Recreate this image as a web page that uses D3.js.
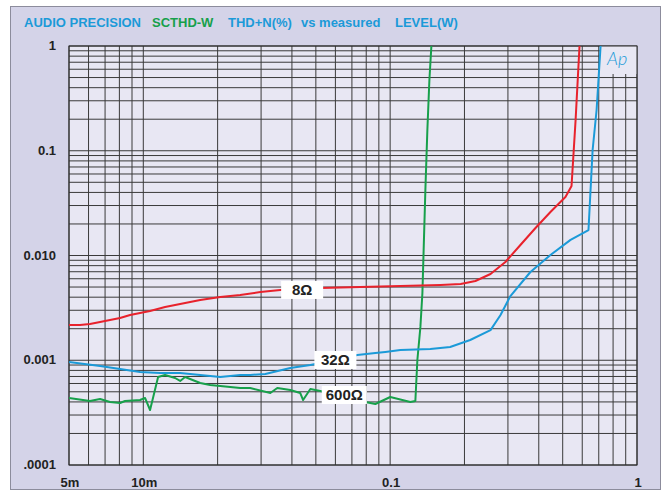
<!DOCTYPE html>
<html>
<head>
<meta charset="utf-8">
<script src="https://cdn.jsdelivr.net/npm/d3@7"></script>
<style>
  body { margin: 0; background: #ffffff; }
  svg { display: block; font-family: "Liberation Sans", Arial, sans-serif; }
</style>
</head>
<body>
<div id="chart"></div>
<script>
// 坐标轴标签
const xTickValues = [0.005, 0.01, 0.1, 1]
const xTickLabels = ["5m", "10m", "0.1", "1"]
const yTickValues = [1, 0.1, 0.01, 0.001, 0.0001]
const yTickLabels = ["1", "0.1", "0.010", "0.001", ".0001"]

// 曲线数据: [LEVEL(W), THD+N(%)]
const ohm8 = [
  [0.005, 0.00217], [0.00554, 0.00217], [0.00608, 0.00222], [0.00668, 0.00232],
  [0.00733, 0.00242], [0.00805, 0.00253], [0.00884, 0.0027], [0.0097, 0.00283],
  [0.01065, 0.00295], [0.01225, 0.00322], [0.0141, 0.00344], [0.017, 0.00376],
  [0.0205, 0.00402], [0.0247, 0.0042], [0.0298, 0.00448], [0.0359, 0.00469],
  [0.0521, 0.00489], [0.0757, 0.005], [0.11, 0.00511], [0.16, 0.00523],
  [0.193, 0.00534], [0.2215, 0.00571], [0.255, 0.00666], [0.293, 0.00867],
  [0.337, 0.0126], [0.388, 0.0183], [0.446, 0.026], [0.513, 0.0362],
  [0.543, 0.0461], [0.564, 0.197], [0.585, 1.0]
]
const ohm32 = [
  [0.005, 0.000962], [0.00668, 0.000881], [0.00805, 0.000825], [0.0097, 0.000772],
  [0.0117, 0.000755], [0.0141, 0.000755], [0.017, 0.000723], [0.0205, 0.000692],
  [0.0247, 0.000723], [0.0271, 0.000723], [0.0312, 0.000739], [0.0394, 0.000843],
  [0.0475, 0.000901], [0.0521, 0.000941], [0.0736, 0.00112], [0.0871, 0.00117],
  [0.0956, 0.0012], [0.11, 0.00125], [0.1455, 0.00128], [0.175, 0.00134],
  [0.211, 0.00156], [0.255, 0.00194], [0.28, 0.0027], [0.307, 0.0041],
  [0.37, 0.00696], [0.446, 0.0101], [0.538, 0.0141], [0.636, 0.0175],
  [0.661, 0.1017], [0.686, 0.245], [0.712, 1.0]
]
const ohm600 = [
  [0.005, 0.000436], [0.00608, 0.000408], [0.00668, 0.000427], [0.00733, 0.000399],
  [0.00805, 0.000391], [0.00843, 0.000408], [0.0097, 0.000417], [0.01017, 0.000436],
  [0.01065, 0.000335], [0.01148, 0.000692], [0.01225, 0.000723], [0.01345, 0.000677],
  [0.0141, 0.000634], [0.01477, 0.000692], [0.01547, 0.000662], [0.017, 0.000606],
  [0.01865, 0.00058], [0.0205, 0.000568], [0.0247, 0.000543], [0.0271, 0.000543],
  [0.0327, 0.000487], [0.0349, 0.000543], [0.0394, 0.00052], [0.0432, 0.000487],
  [0.0444, 0.000417], [0.0475, 0.000531], [0.0521, 0.000509], [0.0793, 0.000399],
  [0.0871, 0.000382], [0.1001, 0.000446], [0.1207, 0.000399], [0.1265, 0.000408],
  [0.1289, 0.001006], [0.1326, 0.00208], [0.1351, 0.00439], [0.1363, 0.00906],
  [0.1389, 0.0422], [0.1415, 0.158], [0.1442, 0.4735], [0.1469, 1.0]
]

// 曲线标签: [名称, LEVEL, THD+N]
const curveLabels = [
  ["8Ω", 0.044, 0.00469],
  ["32Ω", 0.06, 0.001006],
  ["600Ω", 0.0652, 0.000466]
]

const width = 666
const height = 492
const plot = { left: 69, right: 637, top: 46, bottom: 465 }
const colors = { ohm8: "#e8222c", ohm32: "#1b9ad8", ohm600: "#17a04b" }

const svg = d3.select("#chart")
  .append("svg")
  .attr("width", width)
  .attr("height", height)

// 外框
svg.append("rect")
  .attr("x", 10.5)
  .attr("y", 6.5)
  .attr("width", 650)
  .attr("height", 483)
  .attr("fill", "#d4d3e8")
  .attr("stroke", "#8c8c9c")

// 比例尺
const xScale = d3.scaleLog().domain([0.005, 1]).range([plot.left, plot.right])
const yScale = d3.scaleLog().domain([0.0001, 1]).range([plot.bottom, plot.top])

// 绘图区背景
svg.append("rect")
  .attr("x", plot.left)
  .attr("y", plot.top)
  .attr("width", plot.right - plot.left)
  .attr("height", plot.bottom - plot.top)
  .attr("fill", "#e8e7f3")

// 网格
const grid = svg.append("g").attr("stroke", "#3a3a3a").attr("stroke-width", 1)
grid.selectAll(".vgrid")
  .data(xScale.ticks())
  .enter()
  .append("line")
  .attr("x1", (d) => xScale(d))
  .attr("x2", (d) => xScale(d))
  .attr("y1", plot.top)
  .attr("y2", plot.bottom)
grid.selectAll(".hgrid")
  .data(yScale.ticks())
  .enter()
  .append("line")
  .attr("x1", plot.left)
  .attr("x2", plot.right)
  .attr("y1", (d) => yScale(d))
  .attr("y2", (d) => yScale(d))

// Ap 标志底框
svg.append("rect")
  .attr("x", 600)
  .attr("y", plot.top)
  .attr("width", plot.right - 600)
  .attr("height", 28)
  .attr("fill", "#e8e7f3")
svg.append("text")
  .text("Ap")
  .attr("x", 607)
  .attr("y", 65)
  .attr("font-family", "Lato, 'Open Sans', sans-serif")
  .attr("font-weight", 300)
  .attr("font-style", "italic")
  .attr("font-size", 18)
  .attr("fill", colors.ohm32)

// 绘图区边框
svg.append("rect")
  .attr("x", plot.left)
  .attr("y", plot.top)
  .attr("width", plot.right - plot.left)
  .attr("height", plot.bottom - plot.top)
  .attr("fill", "none")
  .attr("stroke", "#2a2a2a")

// 裁剪
svg.append("clipPath")
  .attr("id", "plot-clip")
  .append("rect")
  .attr("x", plot.left)
  .attr("y", plot.top)
  .attr("width", plot.right - plot.left)
  .attr("height", plot.bottom - plot.top)

// 曲线
const line = d3.line()
  .x((d) => xScale(d[0]))
  .y((d) => yScale(d[1]))

const curves = svg.append("g").attr("clip-path", "url(#plot-clip)")
;[[ohm600, colors.ohm600], [ohm32, colors.ohm32], [ohm8, colors.ohm8]].forEach(([data, color]) => {
  curves.append("path")
    .attr("d", line(data))
    .attr("fill", "none")
    .attr("stroke", color)
    .attr("stroke-width", 2)
    .attr("stroke-linejoin", "round")
})

// 曲线标签
const labels = svg.selectAll(".curve-label")
  .data(curveLabels)
  .enter()
  .append("g")
  .attr("transform", (d) => `translate(${xScale(d[1])},${yScale(d[2])})`)
const labelRects = labels.append("rect")
  .attr("y", -9)
  .attr("height", 18)
  .attr("fill", "#ffffff")
labels.append("text")
  .text((d) => d[0])
  .attr("text-anchor", "middle")
  .attr("dy", "0.36em")
  .attr("font-size", 15)
  .attr("font-weight", "bold")
  .attr("fill", "#222")
  .each(function (d, i) {
    const w = Math.max(42, this.getComputedTextLength() + 8)
    d3.select(labelRects.nodes()[i]).attr("x", -w / 2).attr("width", w)
  })

// 坐标轴文字
svg.selectAll(".y-label")
  .data(yTickValues)
  .enter()
  .append("text")
  .text((d, i) => yTickLabels[i])
  .attr("x", 56)
  .attr("y", (d) => yScale(d) + 4)
  .attr("text-anchor", "end")
  .attr("font-size", 13)
  .attr("font-weight", "bold")
  .attr("fill", "#222")

svg.selectAll(".x-label")
  .data(xTickValues)
  .enter()
  .append("text")
  .text((d, i) => xTickLabels[i])
  .attr("x", (d) => xScale(d) + 1)
  .attr("y", 487)
  .attr("text-anchor", "middle")
  .attr("font-size", 13)
  .attr("font-weight", "bold")
  .attr("fill", "#222")

// 标题
const title = [
  ["AUDIO PRECISION", 24, colors.ohm32],
  ["SCTHD-W", 152, colors.ohm600],
  ["THD+N(%)", 228, colors.ohm32],
  ["vs measured", 301, colors.ohm32],
  ["LEVEL(W)", 395, colors.ohm32]
]
svg.selectAll(".title")
  .data(title)
  .enter()
  .append("text")
  .text((d) => d[0])
  .attr("x", (d) => d[1])
  .attr("y", 27)
  .attr("font-size", 13)
  .attr("font-weight", "bold")
  .attr("fill", (d) => d[2])
</script>
</body>
</html>
